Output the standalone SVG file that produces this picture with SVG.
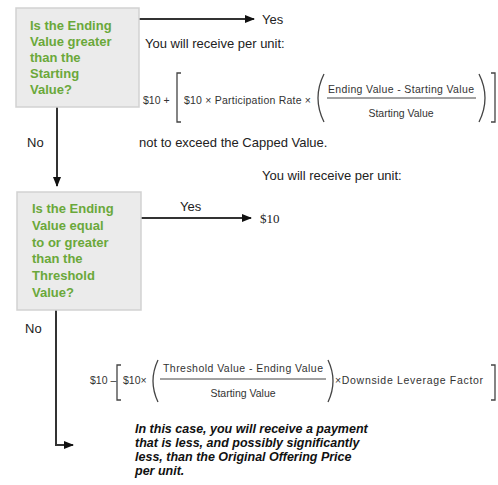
<svg xmlns="http://www.w3.org/2000/svg" width="498" height="485" viewBox="0 0 498 485">
<style>
.box{fill:#ebebeb;stroke:#d2d2d2;stroke-width:1.5}
.q{font-family:"Liberation Sans",Arial,sans-serif;font-weight:bold;font-size:13px;fill:#6aa83a}
.t{font-family:"Liberation Sans",Arial,sans-serif;font-size:13px;fill:#222}
.f{font-family:"Liberation Sans",Arial,sans-serif;font-size:10.5px;fill:#333}
.s{font-family:"Liberation Serif","Times New Roman",serif;font-size:13px;fill:#222}
.w{font-family:"Liberation Sans",Arial,sans-serif;font-size:12.5px;font-weight:bold;font-style:italic;fill:#111}
.ln{stroke:#333;stroke-width:2;fill:none}
.br{stroke:#444;stroke-width:1.3;fill:none}
</style>
<defs>
<marker id="ah" markerWidth="10" markerHeight="8" refX="9" refY="4" orient="auto" markerUnits="userSpaceOnUse">
<path d="M0,0 L10,4 L0,8 z" fill="#111"/>
</marker>
</defs>
<g id="connectors">
<line class="ln" x1="139" y1="19" x2="254" y2="19" marker-end="url(#ah)"/>
<line class="ln" x1="57" y1="107" x2="57" y2="186" marker-end="url(#ah)"/>
<line class="ln" x1="141" y1="218" x2="251" y2="218" marker-end="url(#ah)"/>
<polyline class="ln" points="56,310 56,445 73,445" marker-end="url(#ah)"/>
<text class="t" x="262" y="24">Yes</text>
<text class="t" x="27" y="147">No</text>
<text class="t" x="180" y="211">Yes</text>
<text class="t" x="25" y="333">No</text>
</g>
<g id="node1">
<rect class="box" x="16" y="8" width="123" height="99"/>
<text class="q" x="30" y="30">Is the Ending</text>
<text class="q" x="30" y="46">Value greater</text>
<text class="q" x="30" y="62">than the</text>
<text class="q" x="30" y="78">Starting</text>
<text class="q" x="30" y="94">Value?</text>
</g>
<g id="node2">
<rect class="box" x="17" y="192" width="124" height="118"/>
<text class="q" x="32" y="213">Is the Ending</text>
<text class="q" x="32" y="230">Value equal</text>
<text class="q" x="32" y="247">to or greater</text>
<text class="q" x="32" y="263">than the</text>
<text class="q" x="32" y="280">Threshold</text>
<text class="q" x="32" y="297">Value?</text>
</g>
<g id="outcome1">
<text class="t" x="145" y="48">You will receive per unit:</text>
<text class="f" x="143" y="104">$10 +</text>
<polyline class="br" points="181,73 177,73 177,122 181,122"/>
<text class="f" x="184" y="104" textLength="127">$10 × Participation Rate ×</text>
<path class="br" d="M324,74 Q312,98 324,122"/>
<text class="f" x="401" y="93" text-anchor="middle" textLength="146">Ending Value - Starting Value</text>
<line x1="327" y1="98" x2="476" y2="98" stroke="#444" stroke-width="1"/>
<text class="f" x="401" y="117" text-anchor="middle">Starting Value</text>
<path class="br" d="M479,74 Q491,98 479,122"/>
<polyline class="br" points="491,73 495,73 495,122 491,122"/>
<text class="t" x="139" y="147">not to exceed the Capped Value.</text>
</g>
<g id="outcome2">
<text class="t" x="262" y="180">You will receive per unit:</text>
<text class="s" x="260" y="223">$10</text>
</g>
<g id="outcome3">
<text class="f" x="90" y="384" font-size="10">$10 –</text>
<polyline class="br" points="121,365 117,365 117,400 121,400"/>
<text class="f" x="123" y="384" font-size="11">$10×</text>
<path class="br" d="M158,360 Q148,381 158,402"/>
<text class="f" x="243" y="372" text-anchor="middle" font-size="11" textLength="160">Threshold Value - Ending Value</text>
<line x1="160" y1="379" x2="326" y2="379" stroke="#444" stroke-width="1"/>
<text class="f" x="243" y="397" text-anchor="middle" font-size="11">Starting Value</text>
<path class="br" d="M328,360 Q338,381 328,402"/>
<text class="f" x="335" y="384" font-size="11" textLength="148">×Downside Leverage Factor</text>
<polyline class="br" points="491,365 495,365 495,400 491,400"/>
<text class="w" x="135" y="433">In this case, you will receive a payment</text>
<text class="w" x="135" y="447">that is less, and possibly significantly</text>
<text class="w" x="135" y="461">less, than the Original Offering Price</text>
<text class="w" x="135" y="475">per unit.</text>
</g>
</svg>
